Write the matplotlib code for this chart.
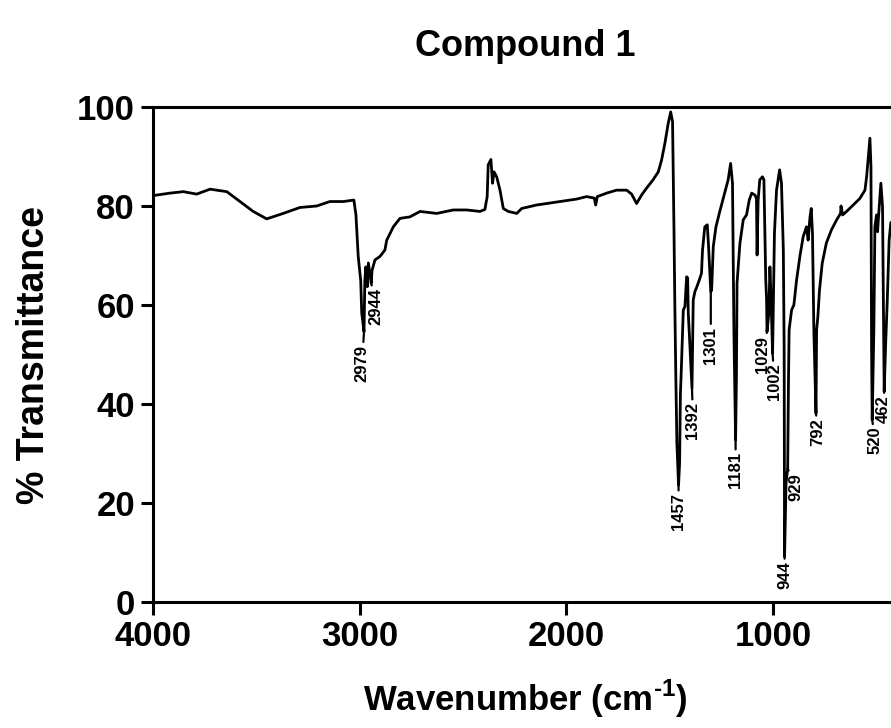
import matplotlib
matplotlib.use("Agg")
import matplotlib.pyplot as plt
import numpy as np

plt.rcParams['font.family'] = ['Liberation Sans', 'DejaVu Sans']
plt.rcParams['font.weight'] = 'bold'
plt.rcParams['mathtext.fontset'] = 'custom'
plt.rcParams['mathtext.rm'] = 'Liberation Sans:bold'
plt.rcParams['mathtext.bf'] = 'Liberation Sans:bold'

# IR spectrum (wavenumber in cm-1, % transmittance)
wavenumber = [4000, 3918, 3853, 3789, 3724, 3643, 3579, 3515, 3450, 3370, 3289, 3208,
              3144, 3079, 3028, 3018, 3007, 2995, 2990, 2979, 2975, 2970, 2963, 2958,
              2944, 2940, 2926, 2902, 2878, 2869, 2837, 2805, 2757, 2708, 2627, 2547,
              2482, 2418, 2394, 2383, 2378, 2365, 2357, 2350, 2337, 2321, 2305, 2281,
              2240, 2216, 2144, 2031, 1950, 1902, 1865, 1858, 1850, 1805, 1757, 1708,
              1684, 1660, 1636, 1612, 1580, 1555, 1539, 1523, 1507, 1495, 1486, 1479,
              1475, 1470, 1465, 1457, 1452, 1448, 1444, 1434, 1426, 1418, 1413, 1410,
              1405, 1392, 1389, 1386, 1378, 1370, 1357, 1346, 1341, 1330, 1318, 1312,
              1301, 1297, 1289, 1276, 1260, 1243, 1228, 1217, 1205, 1196, 1189, 1181,
              1177, 1174, 1160, 1144, 1128, 1115, 1103, 1087, 1080, 1077, 1072, 1064,
              1051, 1044, 1035, 1031, 1029, 1020, 1015, 1010, 1002, 993, 983, 968,
              959, 950, 946, 944, 937, 929, 925, 922, 910, 899, 886, 870,
              854, 838, 830, 821, 815, 809, 802, 792, 789, 783, 775, 762,
              742, 717, 692, 673, 671, 663, 644, 612, 580, 555, 547, 536,
              531, 526, 523, 520, 512, 507, 499, 494, 490, 478, 470, 466,
              462, 455, 447, 438, 430, 420]
transmittance = [82.1, 82.6, 82.9, 82.4, 83.4, 82.9, 80.9, 78.9, 77.4, 78.5, 79.7, 80.0,
                 80.9, 80.9, 81.2, 78.2, 69.8, 65.0, 58.4, 54.6, 65.0, 67.7, 63.7, 68.5,
                 64.4, 67.0, 69.1, 69.8, 71.1, 73.1, 75.8, 77.5, 77.8, 78.9, 78.5, 79.2,
                 79.2, 78.9, 79.3, 81.9, 88.3, 89.4, 84.6, 86.9, 85.9, 83.2, 79.5, 78.9,
                 78.5, 79.5, 80.2, 80.9, 81.4, 81.9, 81.6, 80.2, 81.9, 82.6, 83.2, 83.2,
                 82.4, 80.5, 82.2, 83.6, 85.3, 86.9, 89.3, 92.7, 96.7, 99.0, 97.0, 74.8,
                 60.0, 45.0, 32.0, 23.6, 28.0, 42.0, 46.5, 59.0, 59.7, 65.7, 65.5, 58.3,
                 54.3, 43.2, 51.6, 61.0, 62.7, 63.5, 65.0, 66.4, 71.1, 75.8, 76.2, 72.0,
                 62.7, 63.0, 71.8, 75.8, 78.5, 81.2, 83.6, 85.3, 88.6, 84.6, 54.3, 32.7,
                 45.5, 64.4, 72.5, 77.2, 78.2, 81.2, 82.6, 82.2, 81.5, 70.1, 81.2, 85.3,
                 85.9, 85.3, 65.0, 61.0, 54.6, 58.4, 67.7, 62.0, 50.2, 74.5, 83.2, 87.3,
                 84.6, 71.1, 50.9, 9.2, 24.0, 27.0, 45.0, 55.0, 59.0, 60.0, 65.0, 69.8,
                 73.8, 75.8, 73.1, 77.8, 79.5, 74.5, 54.3, 38.1, 55.0, 57.6, 63.0, 68.4,
                 72.5, 75.2, 77.2, 78.5, 80.0, 78.2, 78.9, 80.2, 81.5, 83.2, 85.9, 91.3,
                 93.7, 87.9, 50.9, 36.8, 55.0, 75.8, 78.2, 74.8, 77.5, 84.6, 79.9, 60.0,
                 42.5, 52.0, 61.0, 73.1, 76.6, 77.0]

# peak labels and their offsets (pixels) from the peak
peak_labels = [2979, 2944, 1457, 1392, 1301, 1181, 1029, 1002, 944, 929, 792, 520, 462]
label_gap = [13, 5, 8, 14, 35, 12, 4, 10, 5, 5, 5, 7, 4]
label_dx = [-2, 5, 0, 1, 0, 0, -5, 2, 0, 8, 2, 3, -1]

x_ticks = [4000, 3000, 2000, 1000]
y_ticks = [0, 20, 40, 60, 80, 100]

fig = plt.figure(figsize=(8.91, 7.28), dpi=100)
ax = fig.add_axes([153 / 891, 126 / 728, (897 - 153) / 891, (602 - 107) / 728])

ax.plot(wavenumber, transmittance, color='black', lw=2.0)
ax.set_xlim(4000, 400)
ax.set_ylim(0, 100)

wn_r = np.array(wavenumber[::-1])
tr_r = np.array(transmittance[::-1])
px = 0.72  # points per pixel
for lab, gap, dx in zip(peak_labels, label_gap, label_dx):
    t = np.interp(lab, wn_r, tr_r)
    ax.annotate(str(lab), xy=(lab, t), xytext=(dx * px, -gap * px),
                textcoords='offset points', rotation=90, ha='center', va='top',
                fontsize=12, fontweight='bold',
                arrowprops=dict(arrowstyle='-', lw=1.6, color='black',
                                shrinkA=0, shrinkB=0))

ax.set_xticks(x_ticks)
ax.set_yticks(y_ticks)
ax.tick_params(direction='out', length=9, width=2.2, labelsize=25, pad=4)
for s in ['left', 'bottom', 'top']:
    ax.spines[s].set_linewidth(2.2)
ax.spines['right'].set_visible(False)

ax.set_ylabel('% Transmittance', fontsize=27, fontweight='bold', labelpad=18)
ax.set_xlabel('Wavenumber (cm$^{\\text{-}1}$)', fontsize=25, fontweight='bold', labelpad=18)
fig.text(525 / 891, 1 - 47 / 728, 'Compound 1', ha='center', va='center',
         fontsize=26, fontweight='bold')

fig.savefig('out.png', dpi=100)
